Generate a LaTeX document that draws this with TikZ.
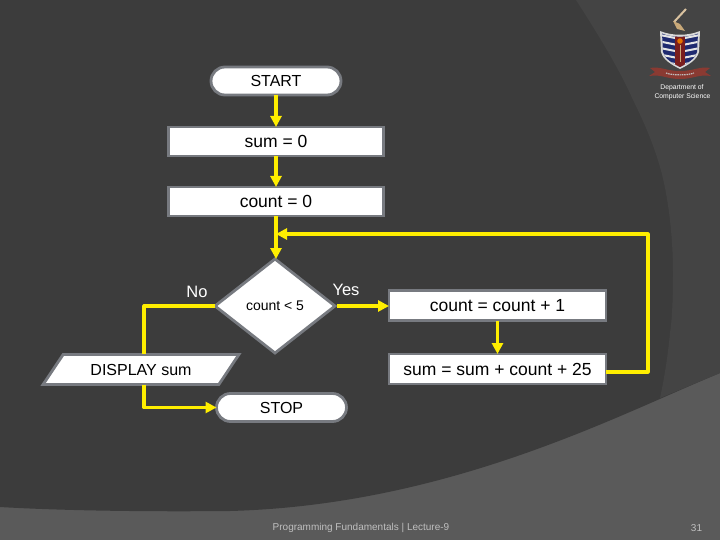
\documentclass[tikz,border=0pt]{standalone}
\usepackage{fontspec}
\setmainfont{Liberation Sans}
\usetikzlibrary{shapes.geometric,shapes.misc,arrows.meta,calc}
\definecolor{bgdark}{HTML}{3C3C3C}
\definecolor{bgmid}{HTML}{444444}
\definecolor{bgband}{HTML}{5A5A5A}
\definecolor{edgegray}{HTML}{777A80}
\definecolor{flow}{HTML}{FFEE00}
\definecolor{shieldblue}{HTML}{1F2A70}
\definecolor{shieldred}{HTML}{7A1E1E}
\definecolor{ribbonred}{HTML}{8A3A32}
\definecolor{gold}{HTML}{C8A878}
\tikzset{
 x=1pt,y=-1pt,
 base/.style={draw=edgegray,line width=2.8pt,fill=white,text=black,inner sep=0pt,outer sep=0pt},
 procbox/.style={base,rectangle,minimum width=215pt,minimum height=29pt,font=\fontsize{17.5}{20}\selectfont},
 termbox/.style={base,rounded rectangle,minimum width=130pt,minimum height=28pt,font=\fontsize{16}{18}\selectfont},
 flowline/.style={draw=flow,line width=3.2pt,-{Triangle[length=11pt,width=11pt]}},
 flowplain/.style={draw=flow,line width=3.2pt},
 lab/.style={text=white,inner sep=0pt,font=\fontsize{16.5}{18}\selectfont},
 foot/.style={text=black!25,inner sep=0pt,font=\fontsize{10}{12}\selectfont},
 dept/.style={text=white,inner sep=0pt,font=\fontsize{6.8}{8}\selectfont},
}
\begin{document}
\begin{tikzpicture}
\useasboundingbox (0,0) rectangle (720,540);
\fill[bgband] (0,0) rectangle (720,540);
\fill[bgdark] (0,0) -- (720,0) -- (720,373) .. controls (620,414) and (450,505) .. (230,511) .. controls (130,512) and (50,510) .. (0,507) -- cycle;
\fill[bgmid] (576,0) .. controls (605,45) and (622,75) .. (633,100) .. controls (648,130) and (655,150) .. (660,167) .. controls (668,195) and (673,235) .. (673,273) .. controls (673,300) and (672,320) .. (670,333) .. controls (668,355) and (664,380) .. (660,398) -- (720,373) -- (720,0) -- cycle;
% logo
\draw[draw=gold!70!white,line width=2pt] (686,9) -- (674,22);
\fill[gold] (673,21) -- (680,24) -- (685,31) -- (677,29) -- cycle;
\fill[black!15] (660,31) .. controls (672,36) and (688,36) .. (700,31) -- (699,52) .. controls (697,60) and (688,65) .. (680,69) .. controls (672,65) and (663,60) .. (661,52) -- cycle;
\begin{scope}
\clip (662,33.5) .. controls (672,38) and (688,38) .. (698,33.5) -- (697,52) .. controls (695,59) and (688,63) .. (680,67) .. controls (672,63) and (665,59) .. (663,52) -- cycle;
\fill[shieldblue] (655,30) rectangle (705,70);
\foreach \yy in {35,41.5,48,54.5,61}{\draw[white!90!black,line width=2pt] (660,\yy) -- (680,\yy+4) -- (700,\yy);}
\fill[shieldred] (675,30) rectangle (685,70);
\fill[orange!90!black] (680,41) circle (2.8pt);
\draw[gold,line width=1pt] (680,45) -- (680,62);
\end{scope}
\fill[ribbonred] (650,68) .. controls (660,66) and (666,71) .. (680,71) .. controls (694,71) and (700,66) .. (710,68) -- (705,72) -- (711,76) .. controls (698,74) and (694,79) .. (680,79) .. controls (666,79) and (662,74) .. (649,76) -- (655,72) -- cycle;
\draw[white!75!black,line width=1.2pt,dash pattern=on 1.5pt off .8pt] (666,73) .. controls (672,75.5) and (688,75.5) .. (694,73);
\node[dept] (dept1) at (682,87.5) {Department of};
\node[dept] (dept2) at (682.5,96.5) {Computer Science};
% nodes
\node[termbox] (start) at (276,81) {START};
\node[procbox] (sum0) at (276,141.5) {sum = 0};
\node[procbox] (count0) at (276,201.5) {count = 0};
\node[base,diamond,minimum width=120pt,minimum height=94pt,aspect=1.27] (dec) at (275,306) {};
\node[inner sep=0pt,text=black,font=\fontsize{14}{16}\selectfont] (dectext) at (275,306) {count < 5};
\node[procbox,minimum width=217pt,minimum height=30pt] (inc) at (497.5,305.5) {count = count + 1};
\node[procbox,minimum width=217pt,minimum height=30pt] (acc) at (497.5,369) {sum = sum + count + 25};
\node[base,trapezium,trapezium left angle=41,trapezium right angle=139,trapezium stretches=true,minimum width=196pt,minimum height=30pt,font=\fontsize{16}{18}\selectfont] (disp) at (141,369.5) {DISPLAY sum};
\node[termbox] (stop) at (281.5,407.5) {STOP};
\coordinate (join) at (276,234);
% labels
\node[lab] (nolabel) at (197,292) {No};
\node[lab] (yeslabel) at (346,290) {Yes};
\node[foot] (footer) at (361,528) {Programming Fundamentals | Lecture-9};
\node[foot] (page) at (696.5,528) {31};
% connectors
\draw[flowline] (start.south) -- (sum0.north);
\draw[flowline] (sum0.south) -- (count0.north);
\draw[flowline] (count0.south) -- (dec.north -| count0.south);
\draw[flowline] ($(dec.east)+(2,0)$) -- (dec.east -| inc.west);
\draw[flowline] (inc.south) -- (acc.north);
\draw[flowplain,line join=round] (dec.west) -| ($(disp.north)+(3,0)$);
\draw[flowline,line join=round] ($(disp.south)+(3,0)$) |- (stop.west);
\draw[flowline,line join=round] ($(acc.east)+(0,3)$) -- ++(42,0) |- (join);
\end{tikzpicture}
\end{document}
